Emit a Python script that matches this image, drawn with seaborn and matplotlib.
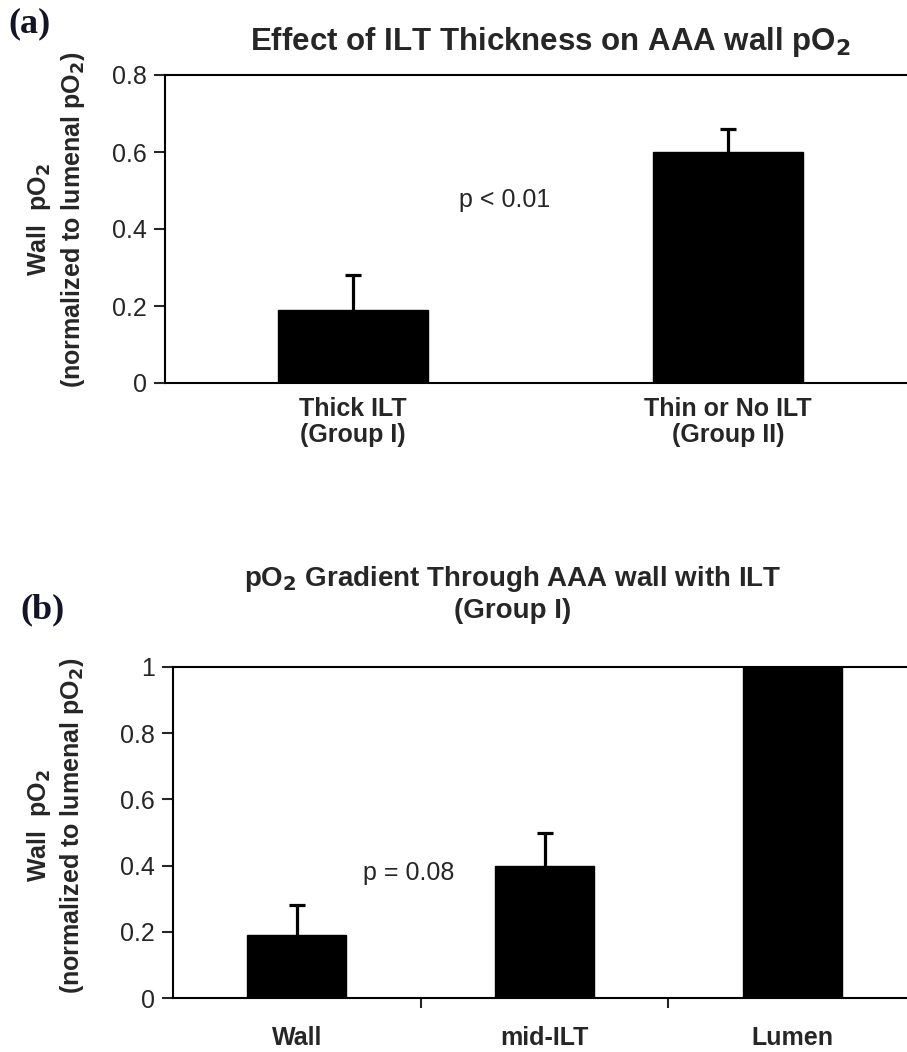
import matplotlib
matplotlib.use("Agg")
import matplotlib.pyplot as plt
import seaborn as sns
import pandas as pd

# ---- data ----
groups_a = ["Thick ILT\n(Group I)", "Thin or No ILT\n(Group II)"]
values_a = [0.19, 0.60]
errors_a = [0.09, 0.06]

groups_b = ["Wall", "mid-ILT", "Lumen"]
values_b = [0.19, 0.40, 1.00]
errors_b = [0.09, 0.10, 0.0]

yticks_a = [0, 0.2, 0.4, 0.6, 0.8]
yticklabels_a = ["0", "0.2", "0.4", "0.6", "0.8"]
yticks_b = [0, 0.2, 0.4, 0.6, 0.8, 1.0]
yticklabels_b = ["0", "0.2", "0.4", "0.6", "0.8", "1"]

sns.set_theme(style="white")
plt.rcParams["font.family"] = ["Liberation Sans", "DejaVu Sans"]

W, H = 907, 1052
fig = plt.figure(figsize=(W / 100, H / 100), dpi=100)

def px_axes(left, top, right, bottom):
    return fig.add_axes([left / W, 1 - bottom / H, (right - left) / W, (bottom - top) / H])

ylabel_text = "Wall  pO$_\\mathbf{2}$\n(normalized to lumenal pO$_\\mathbf{2}$)"

def draw_panel(ax, cats, vals, errs, yt, ytl, ymax, minor_ticks):
    df = pd.DataFrame({"cat": cats, "val": vals})
    sns.barplot(data=df, x="cat", y="val", color="black", width=0.4,
                saturation=1, ax=ax, errorbar=None, edgecolor="black")
    xs = [i for i, e in enumerate(errs) if e > 0]
    cont = ax.errorbar(xs, [vals[i] for i in xs],
                       yerr=[[0] * len(xs), [errs[i] for i in xs]],
                       fmt="none", ecolor="black", elinewidth=2.3, capsize=5.5,
                       capthick=2.3, zorder=1)
    # keep only the upper caps
    caps = cont.lines[1]
    if len(caps) > 1:
        caps[0].set_visible(False)
    ax.set_xlim(-0.5, len(cats) - 0.5)
    ax.set_ylim(0, ymax)
    ax.set_yticks(yt)
    ax.set_yticklabels(ytl, fontsize=18)
    ax.tick_params(axis="y", direction="out", length=8, width=1.5, left=True, pad=5)
    ax.tick_params(axis="x", length=0, labelsize=18)
    for lab in ax.get_xticklabels():
        lab.set_fontweight("bold")
        lab.set_linespacing(1.1)
    if minor_ticks:
        ax.set_xticks(minor_ticks, minor=True)
        ax.tick_params(axis="x", which="minor", direction="out", length=7,
                       width=1.5, bottom=True)
    ax.set_xlabel("")
    for s in ["left", "bottom", "top"]:
        ax.spines[s].set_linewidth(1.5)
        ax.spines[s].set_color("black")
    ax.spines["right"].set_visible(False)
    ax.set_ylabel(ylabel_text, fontsize=18, fontweight="bold", linespacing=1.25)

# ---- panel (a) ----
ax1 = px_axes(165, 75, 916, 383)
draw_panel(ax1, groups_a, values_a, errors_a, yticks_a, yticklabels_a, 0.8, None)
ax1.tick_params(axis="x", pad=10)
ax1.yaxis.label.set_va("center")
ax1.yaxis.set_label_coords(-0.145, 0.53)
ax1.text(0.405, 0.475, "p < 0.01", fontsize=18, ha="center", va="center")
fig.text(550 / W, 1 - 42 / H, "Effect of ILT Thickness on AAA wall pO$_\\mathbf{2}$",
         ha="center", va="center", fontsize=22.5, fontweight="bold")
fig.text(8 / W, 1 - 24 / H, "(a)", ha="left", va="center", fontsize=26,
         fontweight="bold", family=["Liberation Serif", "DejaVu Serif"], color="#141428")

# ---- panel (b) ----
ax2 = px_axes(173, 667, 916, 998)
draw_panel(ax2, groups_b, values_b, errors_b, yticks_b, yticklabels_b, 1.0, [0.5, 1.5])
ax2.tick_params(axis="x", which="major", pad=20.5)
ax2.yaxis.label.set_va("center")
ax2.yaxis.set_label_coords(-0.158, 0.52)
ax2.text(0.453, 0.378, "p = 0.08", fontsize=18, ha="center", va="center")
fig.text(513 / W, 1 - 594 / H,
         "pO$_\\mathbf{2}$ Gradient Through AAA wall with ILT\n(Group I)",
         ha="center", va="center", fontsize=20, fontweight="bold", linespacing=1.2)
fig.text(20 / W, 1 - 610 / H, "(b)", ha="left", va="center", fontsize=26,
         fontweight="bold", family=["Liberation Serif", "DejaVu Serif"], color="#141428")

fig.savefig("out.png", dpi=100)
